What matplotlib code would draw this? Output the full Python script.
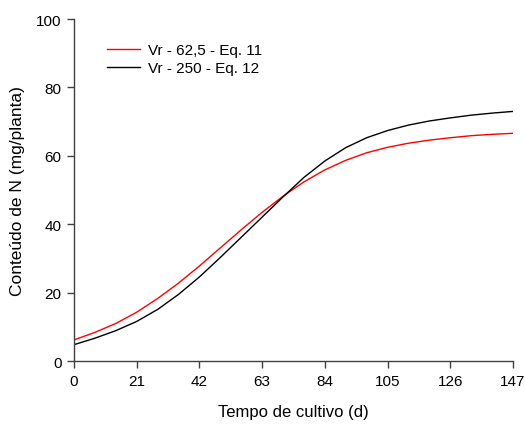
import matplotlib
matplotlib.use("Agg")
import matplotlib.pyplot as plt

plt.rcParams['font.family'] = ['Liberation Sans', 'DejaVu Sans']

# dias de cultivo
dias = [0, 7, 14, 21, 28, 35, 42, 49, 56, 63, 70,
        77, 84, 91, 98, 105, 112, 119, 126, 133, 140, 147]

# conteudo de N (mg/planta) - Vr 62,5 (Eq. 11)
n_vr62 = [6.2, 8.4, 11.0, 14.3, 18.3, 22.8, 27.8, 33.1, 38.4, 43.5, 48.2,
          52.4, 55.9, 58.7, 60.9, 62.5, 63.7, 64.6, 65.3, 65.9, 66.3, 66.6]

# conteudo de N (mg/planta) - Vr 250 (Eq. 12)
n_vr250 = [4.8, 6.7, 8.9, 11.6, 15.1, 19.5, 24.6, 30.3, 36.2, 42.1, 48.0,
           53.7, 58.5, 62.4, 65.3, 67.4, 69.0, 70.2, 71.1, 71.9, 72.5, 73.0]

xticks = [0, 21, 42, 63, 84, 105, 126, 147]
yticks = [0, 20, 40, 60, 80, 100]

fig = plt.figure(figsize=(5.25, 4.27), dpi=100)
ax = fig.add_axes([0.141, 0.152, 0.836, 0.801])

ax.plot(dias, n_vr62, color='red', lw=1.0, label='Vr - 62,5 - Eq. 11')
ax.plot(dias, n_vr250, color='black', lw=1.0, label='Vr - 250 - Eq. 12')

ax.set_xlim(0, 147)
ax.set_ylim(0, 100)
ax.set_xticks(xticks)
ax.set_yticks(yticks)

for s in ['top', 'right']:
    ax.spines[s].set_visible(False)
for s in ['left', 'bottom']:
    ax.spines[s].set_color('#404040')
    ax.spines[s].set_linewidth(1.0)
ax.tick_params(direction='out', length=5, width=1, color='#404040',
               labelsize=11, pad=4)

ax.set_xlabel('Tempo de cultivo (d)', fontsize=12, labelpad=12)
ax.set_ylabel('Conteúdo de N (mg/planta)', fontsize=12.5, labelpad=8)

ax.legend(loc='upper left', bbox_to_anchor=(0.043, 0.97), frameon=False,
          fontsize=11, handlelength=2.2, handletextpad=0.5,
          labelspacing=0.25)

fig.savefig('out.png', dpi=100)
